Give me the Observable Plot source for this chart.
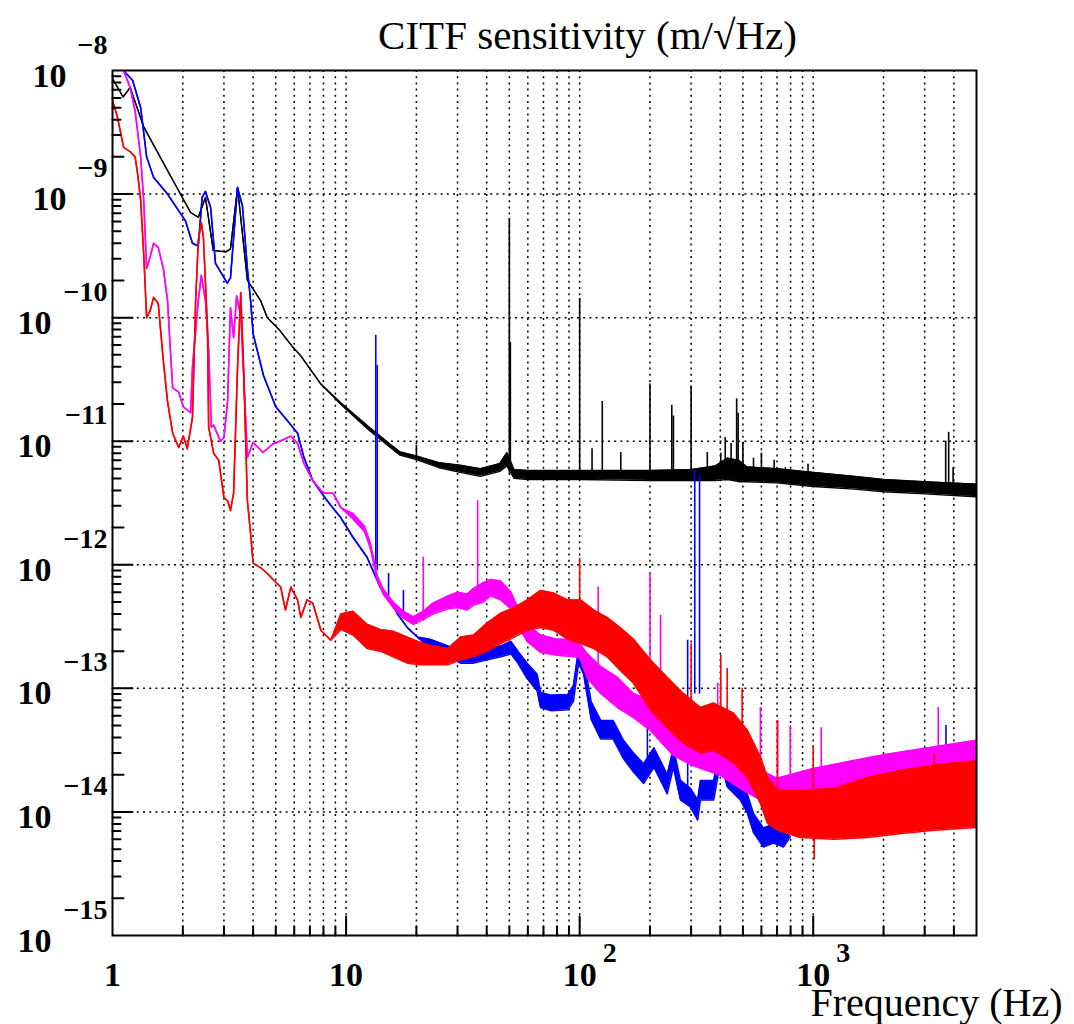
<!DOCTYPE html>
<html><head><meta charset="utf-8">
<script src="https://cdn.jsdelivr.net/npm/d3@7"></script>
<script src="https://cdn.jsdelivr.net/npm/@observablehq/plot@0.6"></script>
<style>body{margin:0;background:#fff} #chart svg{display:block}</style>
</head><body><div id="chart"></div>
<script>
// ---------- data ----------
const titleText = "CITF sensitivity (m/\u221AHz)";
const xTitle = "Frequency (Hz)";

// black trace
const blackF  = [1, 1.11, 1.19, 1.36, 1.72, 2.16, 2.33, 2.5, 2.7, 3.05, 3.2, 3.43, 3.78, 4.3, 4.6, 5.2, 5.95, 6.4, 7.8, 9.5, 12.4, 15, 17, 20, 25, 30.8, 37.6, 45.5, 48.8, 52.4, 60, 100, 200, 300, 380, 430, 480, 520, 700, 1000, 1500, 2000, 3000, 5000];
const blackHi = [8.6e-9, 6.1e-9, 7.3e-9, 3.5e-9, 1.55e-9, 7.1e-10, 6.5e-10, 9.4e-10, 3.5e-10, 3.4e-10, 3.6e-10, 1.13e-9, 2.0e-10, 1.38e-10, 1.0e-10, 7.9e-11, 5.7e-11, 4.9e-11, 2.9e-11, 2.05e-11, 1.33e-11, 9.9e-12, 8.2e-12, 7.6e-12, 6.7e-12, 6.4e-12, 6.0e-12, 6.6e-12, 8.1e-12, 5.9e-12, 5.8e-12, 5.8e-12, 5.8e-12, 5.9e-12, 6.3e-12, 7.3e-12, 7.0e-12, 6.2e-12, 6.0e-12, 5.6e-12, 5.2e-12, 4.9e-12, 4.7e-12, 4.5e-12];
const blackLo = [8.6e-9, 6.1e-9, 7.3e-9, 3.5e-9, 1.55e-9, 7.1e-10, 6.5e-10, 9.4e-10, 3.5e-10, 3.4e-10, 3.6e-10, 1.13e-9, 2.0e-10, 1.38e-10, 1.0e-10, 7.9e-11, 5.7e-11, 4.9e-11, 2.9e-11, 1.98e-11, 1.25e-11, 9.3e-12, 7.7e-12, 7.1e-12, 6.1e-12, 5.6e-12, 5.2e-12, 5.7e-12, 6.3e-12, 5.0e-12, 4.9e-12, 4.9e-12, 4.8e-12, 4.8e-12, 4.8e-12, 4.9e-12, 4.7e-12, 4.7e-12, 4.6e-12, 4.3e-12, 4.1e-12, 3.9e-12, 3.75e-12, 3.55e-12];
const blackSpikeF    = [20, 50, 50.5, 100, 113, 125, 150, 200, 248, 252, 300, 352, 402, 420, 445, 470, 477, 500, 555, 600, 680, 760, 950, 3690, 3800, 3970];
const blackSpikeTop  = [9.3e-12, 6.35e-10, 6.3e-11, 1.43e-10, 8.7e-12, 2.1e-11, 8.1e-12, 2.9e-11, 1.95e-11, 1.6e-11, 2.8e-11, 8.1e-12, 8.0e-12, 1.07e-11, 9.6e-12, 2.2e-11, 1.68e-11, 9.8e-12, 7.3e-12, 8.0e-12, 7.0e-12, 6.1e-12, 6.5e-12, 1.0e-11, 1.18e-11, 6.1e-12];
const blackSpikeBase = [7e-12, 5.5e-12, 5.5e-12, 5.3e-12, 5.3e-12, 5.3e-12, 5.3e-12, 5.3e-12, 5.3e-12, 5.3e-12, 5.3e-12, 5.3e-12, 5.3e-12, 5.5e-12, 5.5e-12, 5.5e-12, 5.5e-12, 5.3e-12, 5.3e-12, 5.3e-12, 5.2e-12, 5.2e-12, 5e-12, 4.2e-12, 4.2e-12, 4.2e-12];

// blue trace
const blueF  = [1, 1.115, 1.22, 1.32, 1.40, 1.50, 1.72, 2.05, 2.2, 2.33, 2.42, 2.5, 2.63, 2.76, 3.1, 3.2, 3.43, 3.6, 3.78, 3.9, 4.0, 4.43, 5.0, 5.6, 6.2, 6.6, 7.2, 8.3, 9.5, 10.7, 12.3, 14.0, 15.4, 16.6, 18.3, 20.2, 22.9, 27.3, 30.9, 35.2, 40.3, 45.9, 50.8, 54.4, 59.6, 65.8, 68, 75, 89, 94, 99, 104, 112, 123, 139, 154, 170, 188, 208, 229, 237, 252, 270, 298, 320, 329, 375, 402, 428, 487, 522, 555, 612, 677, 745, 797];
const blueHi = [1.25e-8, 1.0e-8, 8.3e-9, 5.0e-9, 2.0e-9, 1.36e-9, 1.0e-9, 6.1e-10, 4.0e-10, 3.8e-10, 9.4e-10, 1.05e-9, 7.8e-10, 2.75e-10, 1.9e-10, 2.1e-10, 1.13e-9, 8.0e-10, 2.5e-10, 1.38e-10, 7.4e-11, 3.4e-11, 1.9e-11, 1.47e-11, 1.16e-11, 7.4e-12, 4.8e-12, 3.3e-12, 2.4e-12, 1.67e-12, 1.15e-12, 6.6e-13, 5.2e-13, 4.0e-13, 3.1e-13, 2.6e-13, 2.5e-13, 2.2e-13, 2.0e-13, 2.0e-13, 2.1e-13, 2.2e-13, 2.4e-13, 2.0e-13, 1.6e-13, 1.3e-13, 9.3e-14, 8.8e-14, 8.9e-14, 1.05e-13, 2.1e-13, 1.75e-13, 7.8e-14, 5.5e-14, 5.5e-14, 3.8e-14, 3.0e-14, 2.45e-14, 3.3e-14, 2.3e-14, 2.0e-14, 3.3e-14, 1.8e-14, 1.55e-14, 1.25e-14, 1.8e-14, 1.8e-14, 3.6e-14, 2.2e-14, 1.8e-14, 1.4e-14, 9.7e-15, 7.4e-15, 8e-15, 7.4e-15, 9e-15];
const blueLo = [1.25e-8, 1.0e-8, 8.3e-9, 5.0e-9, 2.0e-9, 1.36e-9, 1.0e-9, 6.1e-10, 4.0e-10, 3.8e-10, 9.4e-10, 1.05e-9, 7.8e-10, 2.75e-10, 1.9e-10, 2.1e-10, 1.13e-9, 8.0e-10, 2.5e-10, 1.38e-10, 7.4e-11, 3.4e-11, 1.9e-11, 1.47e-11, 1.16e-11, 7.4e-12, 4.8e-12, 3.3e-12, 2.4e-12, 1.67e-12, 1.15e-12, 6.6e-13, 5.2e-13, 4.0e-13, 3.1e-13, 2.6e-13, 2.1e-13, 1.8e-13, 1.6e-13, 1.6e-13, 1.7e-13, 1.8e-13, 1.9e-13, 1.6e-13, 1.2e-13, 9.5e-14, 7e-14, 6.6e-14, 6.7e-14, 7.8e-14, 1.6e-13, 1.3e-13, 5.6e-14, 3.9e-14, 3.9e-14, 2.7e-14, 2.1e-14, 1.7e-14, 2.3e-14, 1.6e-14, 1.4e-14, 2.3e-14, 1.25e-14, 1.1e-14, 8.6e-15, 1.25e-14, 1.25e-14, 2.6e-14, 1.6e-14, 1.25e-14, 9.8e-15, 6.8e-15, 5.2e-15, 5.6e-15, 5.2e-15, 6.3e-15];
const blueSpikeF    = [13.4, 13.6, 15.2, 17.6, 195, 290, 311, 326, 3700];
const blueSpikeTop  = [7.2e-11, 4.1e-11, 8.5e-13, 6.2e-13, 7.3e-14, 2.45e-13, 5.8e-12, 5.3e-12, 5.0e-14];
const blueSpikeBase = [1.0e-12, 9e-13, 5e-13, 3.7e-13, 2.2e-14, 1.4e-14, 9e-14, 9e-14, 2e-14];

// magenta trace
const magF  = [1, 1.115, 1.19, 1.25, 1.32, 1.36, 1.40, 1.45, 1.5, 1.57, 1.65, 1.72, 1.77, 1.81, 1.92, 2.01, 2.16, 2.2, 2.33, 2.40, 2.50, 2.58, 2.65, 2.71, 2.9, 3.0, 3.11, 3.2, 3.3, 3.4, 3.55, 3.78, 4.0, 4.4, 4.9, 5.2, 5.8, 6.2, 6.6, 7.2, 8.0, 8.8, 9.5, 10.7, 12, 12.7, 13.6, 14.4, 15.9, 17.6, 19.4, 21.4, 23.6, 27.3, 30, 33, 35, 38.8, 41.5, 45.9, 50.8, 54.4, 59.6, 68, 80, 94, 100, 108, 123, 145, 170, 200, 250, 300, 400, 500, 600, 700, 1000, 2000, 5000];
const magHi = [1.25e-8, 1.0e-8, 7.3e-9, 4.7e-9, 2.0e-9, 8.9e-10, 2.5e-10, 3.1e-10, 4.0e-10, 3.7e-10, 2.5e-10, 1.38e-10, 5.4e-11, 2.7e-11, 2.5e-11, 1.9e-11, 1.7e-11, 4.0e-11, 1.38e-10, 2.2e-10, 1.38e-10, 5.4e-11, 1.3e-11, 1.35e-11, 1.0e-11, 1.07e-11, 2.1e-11, 1.2e-10, 6.9e-11, 1.5e-10, 1.0e-10, 7.4e-12, 9.8e-12, 8.1e-12, 9.6e-12, 1.0e-11, 1.1e-11, 9.6e-12, 6.6e-12, 4.8e-12, 3.8e-12, 3.8e-12, 2.9e-12, 2.6e-12, 2.05e-12, 1.5e-12, 8.2e-13, 6.4e-13, 5.0e-13, 4.2e-13, 3.8e-13, 4.2e-13, 4.9e-13, 5.6e-13, 6.0e-13, 5.8e-13, 6.4e-13, 7.2e-13, 7.6e-13, 7.4e-13, 6.0e-13, 4.5e-13, 3.3e-13, 2.7e-13, 2.5e-13, 2.5e-13, 2.3e-13, 1.9e-13, 1.5e-13, 1.23e-13, 9.1e-14, 8.0e-14, 6.05e-14, 5.0e-14, 3.8e-14, 2.9e-14, 2.17e-14, 1.87e-14, 2.25e-14, 2.9e-14, 3.8e-14];
const magLo = [1.25e-8, 1.0e-8, 7.3e-9, 4.7e-9, 2.0e-9, 8.9e-10, 2.5e-10, 3.1e-10, 4.0e-10, 3.7e-10, 2.5e-10, 1.38e-10, 5.4e-11, 2.7e-11, 2.5e-11, 1.9e-11, 1.7e-11, 4.0e-11, 1.38e-10, 2.2e-10, 1.38e-10, 5.4e-11, 1.3e-11, 1.35e-11, 1.0e-11, 1.07e-11, 2.1e-11, 1.2e-10, 6.9e-11, 1.5e-10, 1.0e-10, 7.4e-12, 9.8e-12, 8.1e-12, 9.6e-12, 1.0e-11, 1.1e-11, 9.6e-12, 6.6e-12, 4.8e-12, 3.8e-12, 3.8e-12, 2.9e-12, 2.35e-12, 1.85e-12, 1.36e-12, 7.5e-13, 5.8e-13, 4.5e-13, 3.7e-13, 3.3e-13, 3.6e-13, 4.0e-13, 4.4e-13, 4.5e-13, 4.3e-13, 4.7e-13, 5.0e-13, 5.6e-13, 5.2e-13, 4.4e-13, 3.2e-13, 2.4e-13, 1.95e-13, 1.85e-13, 1.8e-13, 1.78e-13, 1.2e-13, 9.1e-14, 7.0e-14, 5.8e-14, 4.6e-14, 2.9e-14, 2.4e-14, 1.98e-14, 1.5e-14, 1.24e-14, 1.03e-14, 1.03e-14, 1.24e-14, 1.5e-14];
const magSpikeF    = [21.4, 36.6, 120, 200, 222, 390, 594, 703, 797, 1082, 3430];
const magSpikeTop  = [1.15e-12, 3.3e-12, 6.6e-13, 8.5e-13, 3.9e-13, 1.1e-13, 7.0e-14, 5.5e-14, 5.0e-14, 4.8e-14, 7.0e-14];
const magSpikeBase = [3.5e-13, 5e-13, 1.4e-13, 7e-14, 6e-14, 3e-14, 2e-14, 1.6e-14, 1.5e-14, 2e-14, 3e-14];

// red trace
const redF  = [1.0, 1.05, 1.115, 1.19, 1.25, 1.28, 1.32, 1.36, 1.40, 1.45, 1.5, 1.57, 1.65, 1.72, 1.81, 1.92, 2.01, 2.09, 2.2, 2.27, 2.33, 2.40, 2.45, 2.55, 2.58, 2.71, 2.85, 3.0, 3.11, 3.2, 3.3, 3.43, 3.54, 3.64, 3.78, 3.9, 4.0, 4.3, 4.6, 4.9, 5.25, 5.5, 5.8, 6.2, 6.4, 6.8, 7.2, 7.8, 8.6, 9.5, 10.7, 12.3, 14.0, 15.9, 18.3, 20.8, 23.6, 27.3, 30.9, 35.2, 40.3, 45.9, 52.4, 59.6, 68, 77.4, 88.9, 101, 115, 131, 149, 170, 202, 237, 278, 329, 375, 456, 522, 594, 637, 703, 878, 1231, 1706, 2390, 3300, 5000];
const redHi = [5.7e-9, 4.2e-9, 2.4e-9, 2.2e-9, 2.0e-9, 1.47e-9, 8.9e-10, 3.3e-10, 1.0e-10, 1.14e-10, 1.46e-10, 1.3e-10, 4.5e-11, 2.1e-11, 1.16e-11, 8.9e-12, 1.1e-11, 8.7e-12, 1.56e-11, 1.38e-10, 4.2e-10, 5.9e-10, 4.45e-10, 8.3e-11, 1.3e-11, 8.0e-12, 7.0e-12, 3.5e-12, 3.3e-12, 2.75e-12, 3.8e-12, 3.96e-11, 1.6e-10, 4.0e-11, 3.3e-12, 1.8e-12, 1.03e-12, 9.5e-13, 8.5e-13, 7.5e-13, 6.6e-13, 4.3e-13, 6.6e-13, 5.2e-13, 3.75e-13, 5.2e-13, 4.9e-13, 2.95e-13, 2.45e-13, 4.0e-13, 4.2e-13, 3.3e-13, 3.0e-13, 2.9e-13, 2.6e-13, 2.35e-13, 2.2e-13, 2.1e-13, 2.6e-13, 2.7e-13, 3.4e-13, 4.05e-13, 4.5e-13, 5.2e-13, 6.2e-13, 5.9e-13, 5.2e-13, 5.2e-13, 4.3e-13, 3.75e-13, 3.1e-13, 2.5e-13, 1.68e-13, 1.23e-13, 9.1e-14, 7.0e-14, 7.6e-14, 6.3e-14, 4.6e-14, 2.8e-14, 1.9e-14, 1.5e-14, 1.5e-14, 1.55e-14, 1.9e-14, 2.17e-14, 2.4e-14, 2.6e-14];
const redLo = [5.7e-9, 4.2e-9, 2.4e-9, 2.2e-9, 2.0e-9, 1.47e-9, 8.9e-10, 3.3e-10, 1.0e-10, 1.14e-10, 1.46e-10, 1.3e-10, 4.5e-11, 2.1e-11, 1.16e-11, 8.9e-12, 1.1e-11, 8.7e-12, 1.56e-11, 1.38e-10, 4.2e-10, 5.9e-10, 4.45e-10, 8.3e-11, 1.3e-11, 8.0e-12, 7.0e-12, 3.5e-12, 3.3e-12, 2.75e-12, 3.8e-12, 3.96e-11, 1.6e-10, 4.0e-11, 3.3e-12, 1.8e-12, 1.03e-12, 9.5e-13, 8.5e-13, 7.5e-13, 6.6e-13, 4.3e-13, 6.6e-13, 5.2e-13, 3.75e-13, 5.2e-13, 4.9e-13, 2.95e-13, 2.45e-13, 3.0e-13, 2.7e-13, 2.1e-13, 2.0e-13, 1.8e-13, 1.6e-13, 1.55e-13, 1.55e-13, 1.55e-13, 1.7e-13, 1.8e-13, 2.0e-13, 2.3e-13, 2.6e-13, 2.95e-13, 3.1e-13, 2.95e-13, 2.5e-13, 2.3e-13, 2.1e-13, 1.8e-13, 1.4e-13, 1.1e-13, 6.6e-14, 4.8e-14, 3.6e-14, 3.0e-14, 3.15e-14, 2.5e-14, 1.9e-14, 1.17e-14, 8.1e-15, 7.1e-15, 6.2e-15, 6.0e-15, 6.2e-15, 6.7e-15, 7.1e-15, 7.5e-15];
const redSpikeF    = [100, 300, 402, 428, 496, 703, 1000, 1010, 3300];
const redSpikeTop  = [1.13e-12, 2.3e-13, 1.85e-13, 1.45e-13, 1.0e-13, 5.5e-14, 3.45e-14, 4.1e-15, 2.95e-14];
const redSpikeBase = [4e-13, 8e-14, 6e-14, 6e-14, 5e-14, 1.5e-14, 1e-14, 7e-15, 1.5e-14];

// axes
const xDomain = [1, 5000];
const yDomain = [1e-15, 1e-8];
const xLabelAt   = [1, 10, 100, 1000];
const xLabelText = ["1", "10", "10", "10"];
const xExpAt     = [100, 1000];
const xExpText   = ["2", "3"];
const xMajor = [10, 100, 1000];
const xMinor = [2, 3, 4, 5, 6, 7, 8, 9, 20, 30, 40, 50, 60, 70, 80, 90, 200, 300, 400, 500, 600, 700, 800, 900, 2000, 3000, 4000];
const yDecades = [1e-8, 1e-9, 1e-10, 1e-11, 1e-12, 1e-13, 1e-14, 1e-15];
const yExpText = ["\u22128", "\u22129", "\u221210", "\u221211", "\u221212", "\u221213", "\u221214", "\u221215"];
const yMultipliers = [2, 3, 4, 5, 6, 7, 8, 9];

// ---------- build ----------
const serif = "'Liberation Serif','Times New Roman',serif";
const table  = (F, hi, lo) => F.map((f, i) => ({f, hi: hi[i], lo: lo[i]}));
const spikes = (F, top, base) => F.map((f, i) => ({f, top: top[i], base: base[i]}));
const black = table(blackF, blackHi, blackLo);
const blue  = table(blueF, blueHi, blueLo);
const mag   = table(magF, magHi, magLo);
const red   = table(redF, redHi, redLo);

const yLabels = yDecades.map((v, i) => ({v, exp: yExpText[i]}));
const yMinor2 = yDecades.slice(1).map(d => 2 * d);
const yMinorRest = yDecades.slice(1).flatMap(d => yMultipliers.slice(1).map(m => m * d));
const xGrid = [...xMinor, ...xMajor];
const yGrid = yDecades.slice(1, -1);

const tickShape = {draw(ctx, l) { ctx.moveTo(0, 0); ctx.lineTo(0, -l); }};

function trace(data, color, w) {
  return [
    Plot.areaY(data, {x: "f", y1: "lo", y2: "hi", fill: color, clip: true}),
    Plot.line(data, {x: "f", y: "hi", stroke: color, strokeWidth: w, clip: true}),
    Plot.line(data, {x: "f", y: "lo", stroke: color, strokeWidth: w, clip: true})
  ];
}
function spikeMark(data, color, w) {
  return Plot.ruleX(data, {x: "f", y1: "base", y2: "top", stroke: color, strokeWidth: w, clip: true});
}
const grid = {stroke: "#000", strokeWidth: 1.5, strokeDasharray: "2,4.2"};
const bold = {fontWeight: "bold", fontFamily: serif, lineAnchor: "bottom"};

const chart = Plot.plot({
  width: 1074, height: 1024,
  marginTop: 70, marginBottom: 89, marginLeft: 112, marginRight: 98,
  x: {type: "log", domain: xDomain, axis: null},
  y: {type: "log", domain: yDomain, axis: null},
  style: {background: "#fff", fontFamily: serif, overflow: "visible"},
  marks: [
    Plot.ruleX(xGrid, {x: d => d, ...grid}),
    Plot.ruleY(yGrid, {y: d => d, ...grid}),
    ...trace(black, "#000", 1.3),
    spikeMark(spikes(blackSpikeF, blackSpikeTop, blackSpikeBase), "#000", 1.6),
    ...trace(blue, "#0000ff", 1.5),
    spikeMark(spikes(blueSpikeF, blueSpikeTop, blueSpikeBase), "#0000ff", 1.6),
    ...trace(mag, "#ff00ff", 1.5),
    spikeMark(spikes(magSpikeF, magSpikeTop, magSpikeBase), "#ff00ff", 1.6),
    ...trace(red, "#ff0000", 1.5),
    spikeMark(spikes(redSpikeF, redSpikeTop, redSpikeBase), "#ff0000", 1.6),
    Plot.frame({stroke: "#000", strokeWidth: 2}),
    // ticks
    Plot.vector(yGrid, {y: d => d, frameAnchor: "left", length: 20, rotate: 90, anchor: "start", shape: tickShape, stroke: "#000", strokeWidth: 2}),
    Plot.vector(yMinor2, {y: d => d, frameAnchor: "left", length: 11, rotate: 90, anchor: "start", shape: tickShape, stroke: "#000", strokeWidth: 2}),
    Plot.vector(yMinorRest, {y: d => d, frameAnchor: "left", length: 8, rotate: 90, anchor: "start", shape: tickShape, stroke: "#000", strokeWidth: 2}),
    Plot.vector(xMajor, {x: d => d, frameAnchor: "bottom", length: 19, rotate: 0, anchor: "start", shape: tickShape, stroke: "#000", strokeWidth: 2}),
    Plot.vector(xMinor, {x: d => d, frameAnchor: "bottom", length: 9, rotate: 0, anchor: "start", shape: tickShape, stroke: "#000", strokeWidth: 2}),
    // y labels
    Plot.text(yLabels.filter(d => d.exp.length === 2), {y: "v", text: () => "10", frameAnchor: "left", textAnchor: "end", dx: -46, dy: 16, fontSize: 34, ...bold}),
    Plot.text(yLabels.filter(d => d.exp.length === 3), {y: "v", text: () => "10", frameAnchor: "left", textAnchor: "end", dx: -61, dy: 16, fontSize: 34, ...bold}),
    Plot.text(yLabels, {y: "v", text: "exp", frameAnchor: "left", textAnchor: "end", dx: -5, dy: -17, fontSize: 28, ...bold}),
    // x labels
    Plot.text(xLabelAt, {x: d => d, text: (d, i) => xLabelText[i], frameAnchor: "bottom", dy: 50, fontSize: 34, ...bold}),
    Plot.text(xExpAt, {x: d => d, text: (d, i) => xExpText[i], frameAnchor: "bottom", textAnchor: "start", dx: 23, dy: 26, fontSize: 28, ...bold}),
    // titles
    Plot.text([titleText], {text: d => d, frameAnchor: "top", dx: 43, dy: -22, lineAnchor: "bottom", fontSize: 41, fontFamily: serif}),
    Plot.text([xTitle], {text: d => d, frameAnchor: "bottom-right", textAnchor: "end", dx: 86, dy: 80, lineAnchor: "bottom", fontSize: 40, fontFamily: serif})
  ]
});
document.getElementById("chart").appendChild(chart);
</script>
</body></html>
